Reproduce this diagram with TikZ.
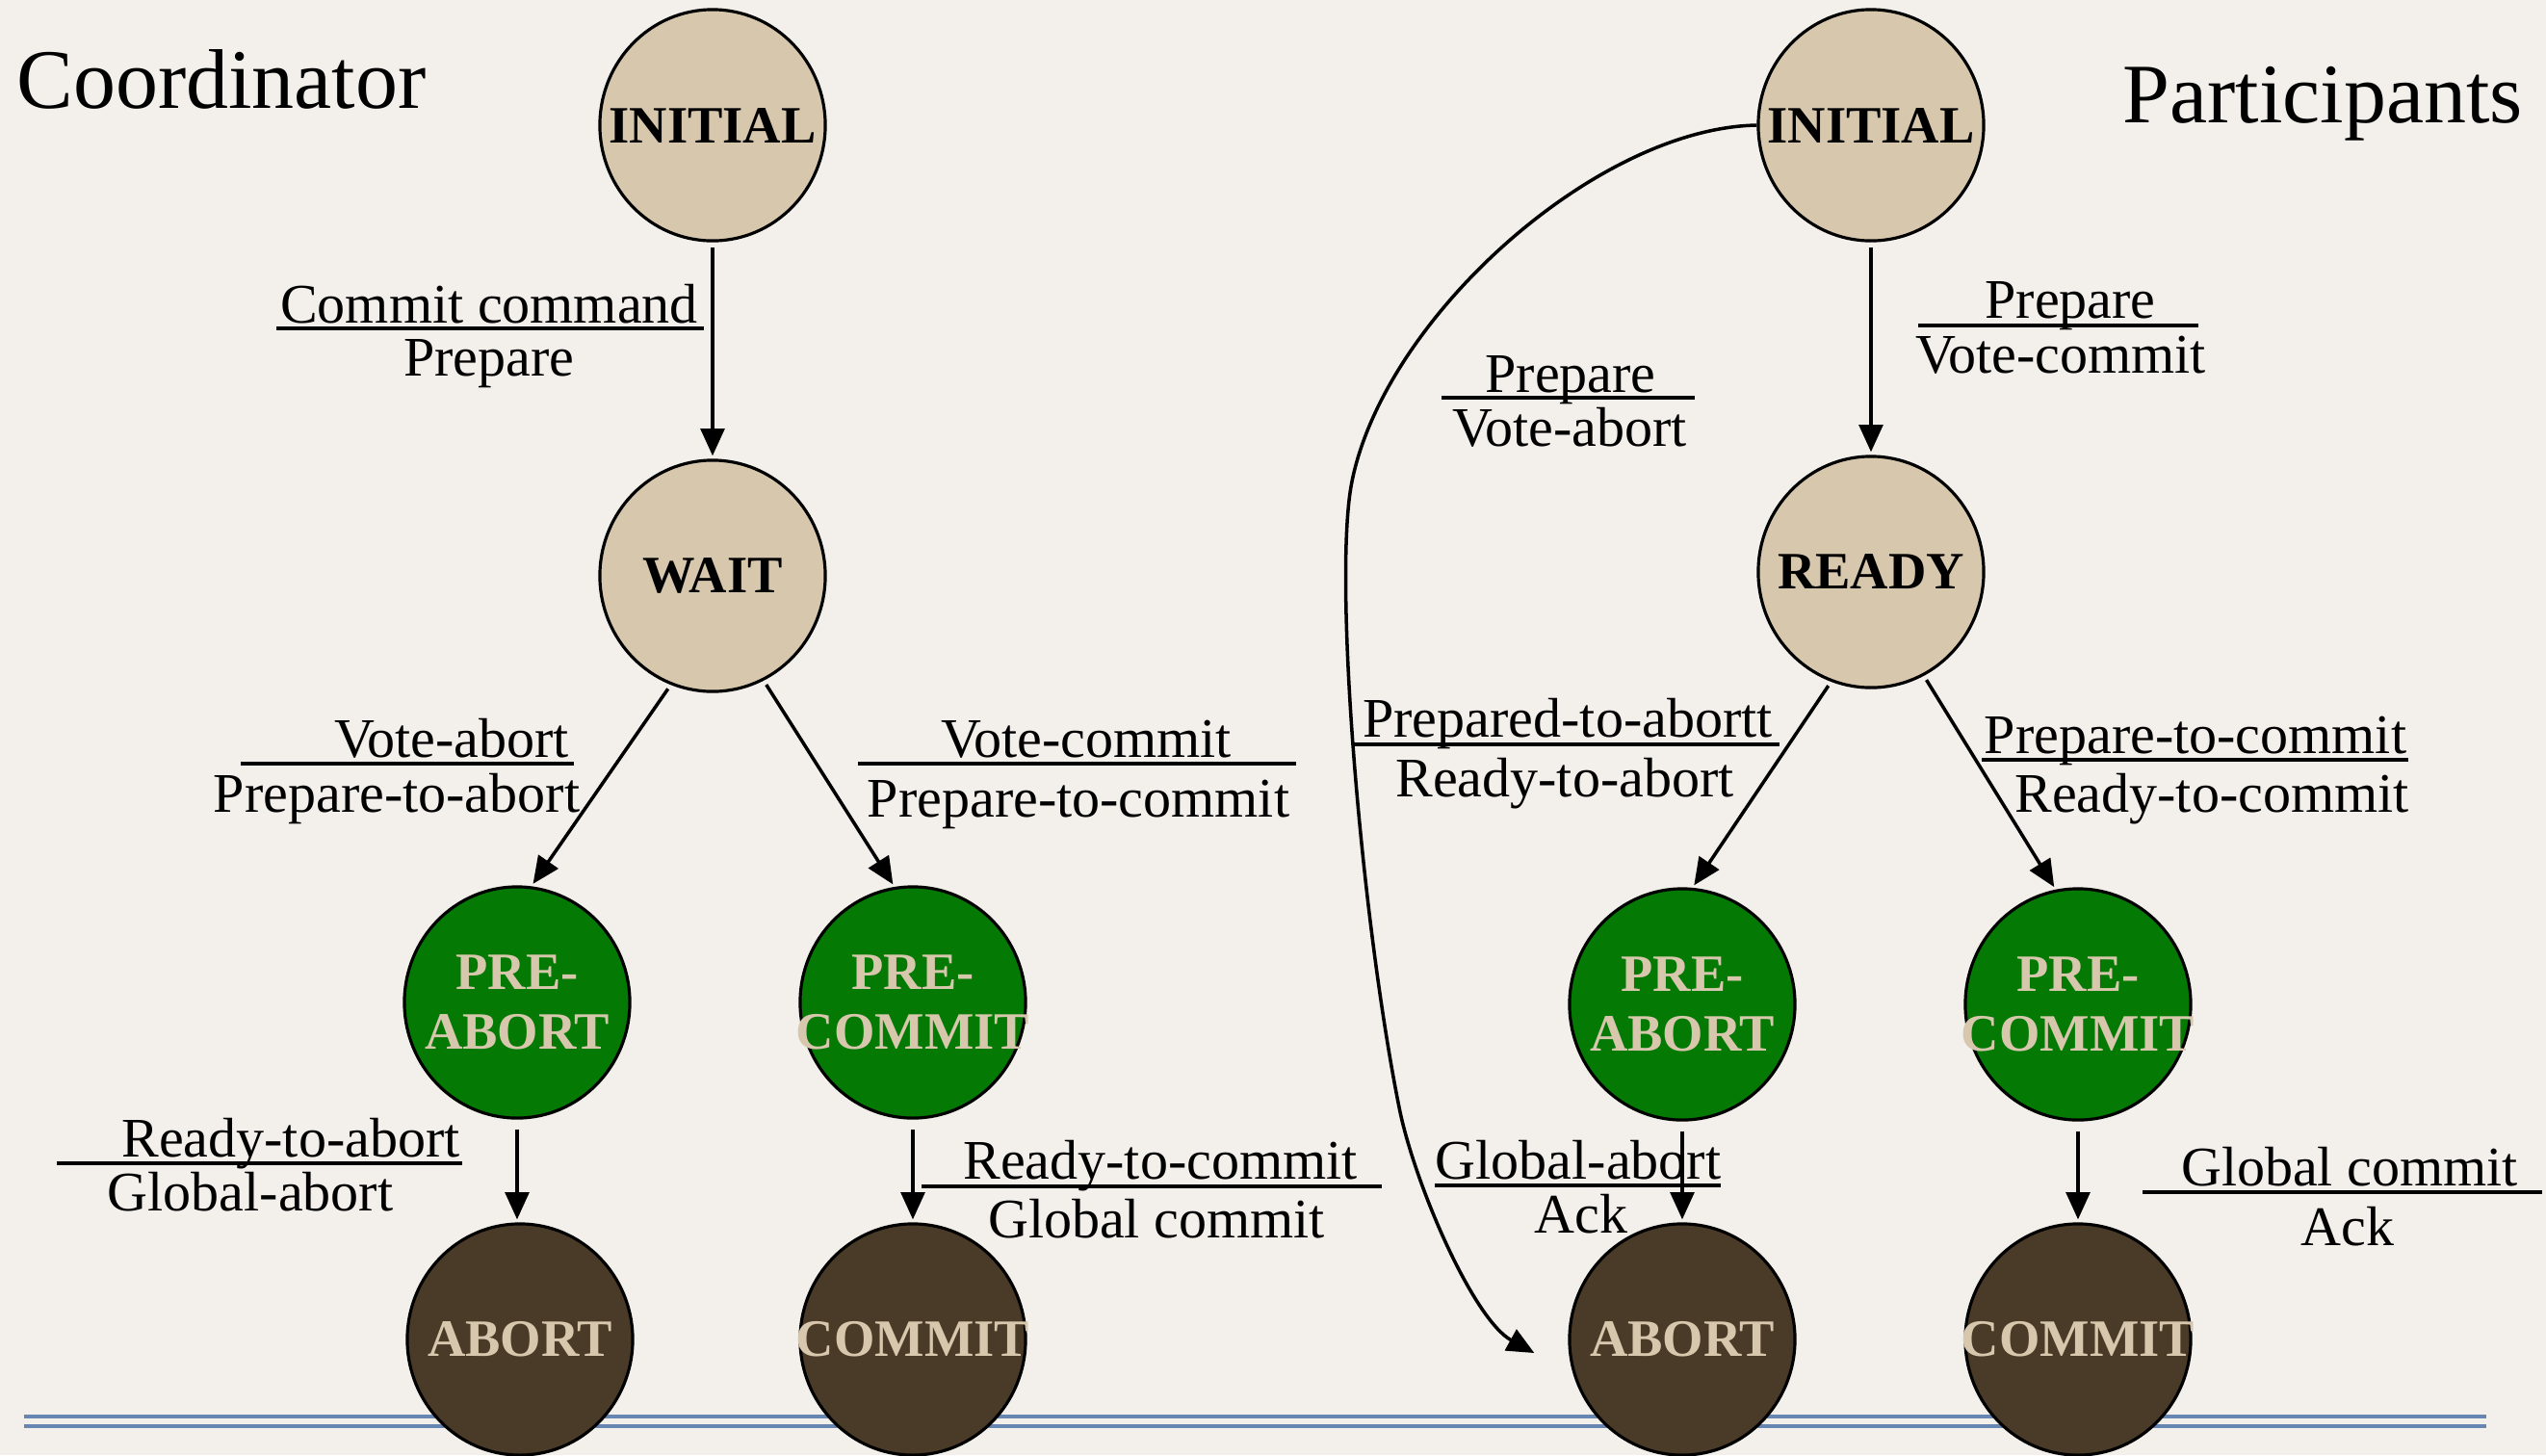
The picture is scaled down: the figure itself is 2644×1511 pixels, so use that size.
\documentclass[tikz,border=0pt]{standalone}
\usepackage{fontspec}
\setmainfont{Liberation Serif}
\usetikzlibrary{arrows.meta,shapes.geometric}
\definecolor{paper}{RGB}{243,240,235}
\definecolor{statetan}{RGB}{215,199,173}
\definecolor{stategreen}{RGB}{4,121,4}
\definecolor{statebrown}{RGB}{74,58,40}
\definecolor{rulerblue}{RGB}{104,134,178}
\begin{document}
\begin{tikzpicture}[x=0.01cm,y=-0.01cm,
  st/.style={ellipse, draw=black, line width=0.9pt, minimum width=2.34cm, minimum height=2.4cm, inner sep=0pt},
  tanst/.style={st, fill=statetan},
  greenst/.style={st, fill=stategreen},
  brownst/.style={st, fill=statebrown},
  darktxt/.style={font=\fontsize{15.5}{17.8}\selectfont\bfseries, text=black, align=center, inner sep=0pt},
  lighttxt/.style={darktxt, text=statetan},
  arr/.style={line width=1pt, -{Triangle[length=8pt,width=7pt]}, shorten <=0.5mm, shorten >=0.3mm},
  lbl/.style={font=\fontsize{16.5}{19}\selectfont, anchor=base, inner sep=0pt},
  bar/.style={line width=1.2pt},
  heading/.style={font=\fontsize{25}{30}\selectfont, anchor=base west, inner sep=0pt}
]
% page and paper
\useasboundingbox (0,0) rectangle (2644,1511);
\clip (0,0) rectangle (2644,1511);
\fill[paper] (0,0) rectangle (2644,1511);

% double rule along the foot of the page
\draw[rulerblue, line width=1pt] (25,1471) -- (2582,1471);
\draw[rulerblue, line width=1pt] (25,1481) -- (2582,1481);

% headings
\node[heading] (hCoord) at (17,112) {Coordinator};
\node[heading] (hPart) at (2204,127) {Participants};

% ---------------- coordinator states ----------------
\node[tanst] (cInit) at (740,130) {};
\node[tanst] (cWait) at (740,598) {};
\node[greenst] (cPreA) at (537,1041) {};
\node[greenst] (cPreC) at (948,1041) {};
\node[brownst] (cAbort) at (540,1391) {};
\node[brownst] (cCommit) at (948,1391) {};

\node[darktxt] (cInitT) at (cInit) {INITIAL};
\node[darktxt] (cWaitT) at (cWait) {WAIT};
\node[lighttxt] (cPreAT) at (cPreA) {PRE-\\ABORT};
\node[lighttxt] (cPreCT) at (cPreC) {PRE-\\COMMIT};
\node[lighttxt] (cAbortT) at (cAbort) {ABORT};
\node[lighttxt] (cCommitT) at (cCommit) {COMMIT};

% ---------------- participant states ----------------
\node[tanst] (pInit) at (1943,130) {};
\node[tanst] (pReady) at (1943,594) {};
\node[greenst] (pPreA) at (1747,1043) {};
\node[greenst] (pPreC) at (2158,1043) {};
\node[brownst] (pAbort) at (1747,1391) {};
\node[brownst] (pCommit) at (2158,1391) {};

\node[darktxt] (pInitT) at (pInit) {INITIAL};
\node[darktxt] (pReadyT) at (pReady) {READY};
\node[lighttxt] (pPreAT) at (pPreA) {PRE-\\ABORT};
\node[lighttxt] (pPreCT) at (pPreC) {PRE-\\COMMIT};
\node[lighttxt] (pAbortT) at (pAbort) {ABORT};
\node[lighttxt] (pCommitT) at (pCommit) {COMMIT};

% ---------------- coordinator transitions ----------------
\draw[arr] (cInit) -- (cWait);
\draw[arr] (cWait.249) -- (cPreA.83);
\draw[arr] (cWait.296) -- (cPreC.99);
\draw[arr, shorten <=1mm] (cPreA.south) -- (cPreA.south |- cAbort.north);
\draw[arr, shorten <=1mm] (cPreC) -- (cCommit);

% ---------------- participant transitions ----------------
\draw[arr] (pInit) -- (pReady);
\draw[arr] (pReady.250) -- (pPreA.85);
\draw[arr] (pReady.297) -- (pPreC.101);
\draw[arr, shorten <=1mm] (pPreA) -- (pAbort);
\draw[arr, shorten <=1mm] (pPreC) -- (pCommit);
\coordinate (abTip) at ([shift={(-35,14)}]pAbort.west);
\draw[arr, shorten <=0mm, shorten >=0mm] (pInit.west)
  .. controls (1658,133) and (1438,330) .. (1404,500)
  .. controls (1384,598) and (1413,950) .. (1453,1150)
  .. controls (1469,1230) and (1530,1370) .. (abTip);

% ---------------- coordinator labels ----------------
\node[lbl] (l1a) at (508,335) {Commit command};
\draw[bar] (287,341) -- (731,341);
\node[lbl] (l1b) at (508,390) {Prepare};

\node[lbl] (l2a) at (469,786) {Vote-abort};
\draw[bar] (250,793) -- (596,793);
\node[lbl] (l2b) at (412,843) {Prepare-to-abort};

\node[lbl] (l3a) at (1128,786) {Vote-commit};
\draw[bar] (891,793) -- (1346,793);
\node[lbl] (l3b) at (1120,848) {Prepare-to-commit};

\node[lbl] (l4a) at (302,1201) {Ready-to-abort};
\draw[bar] (59,1208) -- (480,1208);
\node[lbl] (l4b) at (260,1257) {Global-abort};

\node[lbl] (l5a) at (1205,1224) {Ready-to-commit};
\draw[bar] (957,1232) -- (1435,1232);
\node[lbl] (l5b) at (1201,1285) {Global commit};

% ---------------- participant labels ----------------
\node[lbl] (l6a) at (1631,407) {Prepare};
\draw[bar] (1497,413) -- (1760,413);
\node[lbl] (l6b) at (1630,463) {Vote-abort};

\node[lbl] (l7a) at (2150,330) {Prepare};
\draw[bar] (1992,338) -- (2283,338);
\node[lbl] (l7b) at (2140,387) {Vote-commit};

\node[lbl] (l8a) at (1628,765) {Prepared-to-abortt};
\draw[bar] (1406,773) -- (1848,773);
\node[lbl] (l8b) at (1625,827) {Ready-to-abort};

\node[lbl] (l9a) at (2280,782) {Prepare-to-commit};
\draw[bar] (2058,789) -- (2501,789);
\node[lbl] (l9b) at (2297,843) {Ready-to-commit};

\node[lbl] (l10a) at (1639,1224) {Global-abort};
\draw[bar] (1490,1231) -- (1787,1231);
\node[lbl] (l10b) at (1642,1280) {Ack};

\node[lbl] (l11a) at (2440,1231) {Global commit};
\draw[bar] (2225,1238) -- (2640,1238);
\node[lbl] (l11b) at (2438,1293) {Ack};
\end{tikzpicture}
\end{document}
